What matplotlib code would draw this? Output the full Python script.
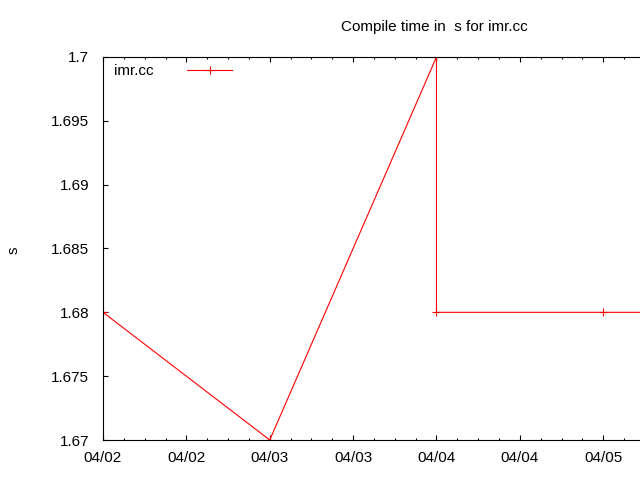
import matplotlib
matplotlib.use("Agg")
import matplotlib.pyplot as plt
import matplotlib.dates as mdates
from datetime import datetime

dates = ["2024-04-02 00:00", "2024-04-03 00:00", "2024-04-04 00:00",
         "2024-04-04 00:00", "2024-04-05 00:00", "2024-04-06 00:00"]
values = [1.68, 1.67, 1.70, 1.68, 1.68, 1.68]
marker_shown = [True, True, True, True, True, False]
series_name = "imr.cc"
title = "Compile time in  s for imr.cc"
ylabel = "s"
yticks = [1.67, 1.675, 1.68, 1.685, 1.69, 1.695, 1.70]
ytick_labels = ["1.67", "1.675", "1.68", "1.685", "1.69", "1.695", "1.7"]

plt.rcParams['font.family'] = ['Liberation Sans', 'DejaVu Sans']
x = [datetime.strptime(d, "%Y-%m-%d %H:%M") for d in dates]

fig = plt.figure(figsize=(6.4, 4.8), dpi=100)
ax = fig.add_axes([103/640, 40/480, (642 - 103)/640, (440-57)/480])
ax.plot(x, values, color='#ff0000', lw=0.8, marker='+', ms=6, mew=0.8,
        markevery=marker_shown, label=series_name, clip_on=True)

ax.set_xlim(datetime(2024, 4, 2, 0, 0), datetime(2024, 4, 5, 5, 35))
ax.set_ylim(1.67, 1.70)
ax.set_yticks(yticks)
ax.set_yticklabels(ytick_labels)
ax.xaxis.set_major_locator(mdates.HourLocator(byhour=[0, 12]))
ax.xaxis.set_minor_locator(mdates.HourLocator(byhour=range(0, 24, 3)))
ax.xaxis.set_major_formatter(mdates.DateFormatter("%m/%d"))

ax.tick_params(axis='both', which='major', direction='in', length=3.3,
               width=0.8, labelsize=11, top=True, right=False)
ax.tick_params(axis='x', which='major', pad=8)
ax.tick_params(axis='y', which='major', pad=10)
ax.tick_params(axis='x', which='minor', direction='in', length=1.6, width=0.8,
               top=True)
for s in ax.spines.values():
    s.set_linewidth(0.8)

fig.text(14/640, 1 - 250/480, ylabel, ha='center', va='center', rotation=90,
         fontsize=11)
fig.text(434/640, 1 - 27/480, title, ha='center', va='center', fontsize=11)

leg = ax.legend(loc='upper left', frameon=False, fontsize=11,
                markerfirst=False, handlelength=2.95, handletextpad=2.2,
                bbox_to_anchor=(-0.005, 1.018), borderaxespad=0.5)

fig.savefig("out.png", dpi=100)
